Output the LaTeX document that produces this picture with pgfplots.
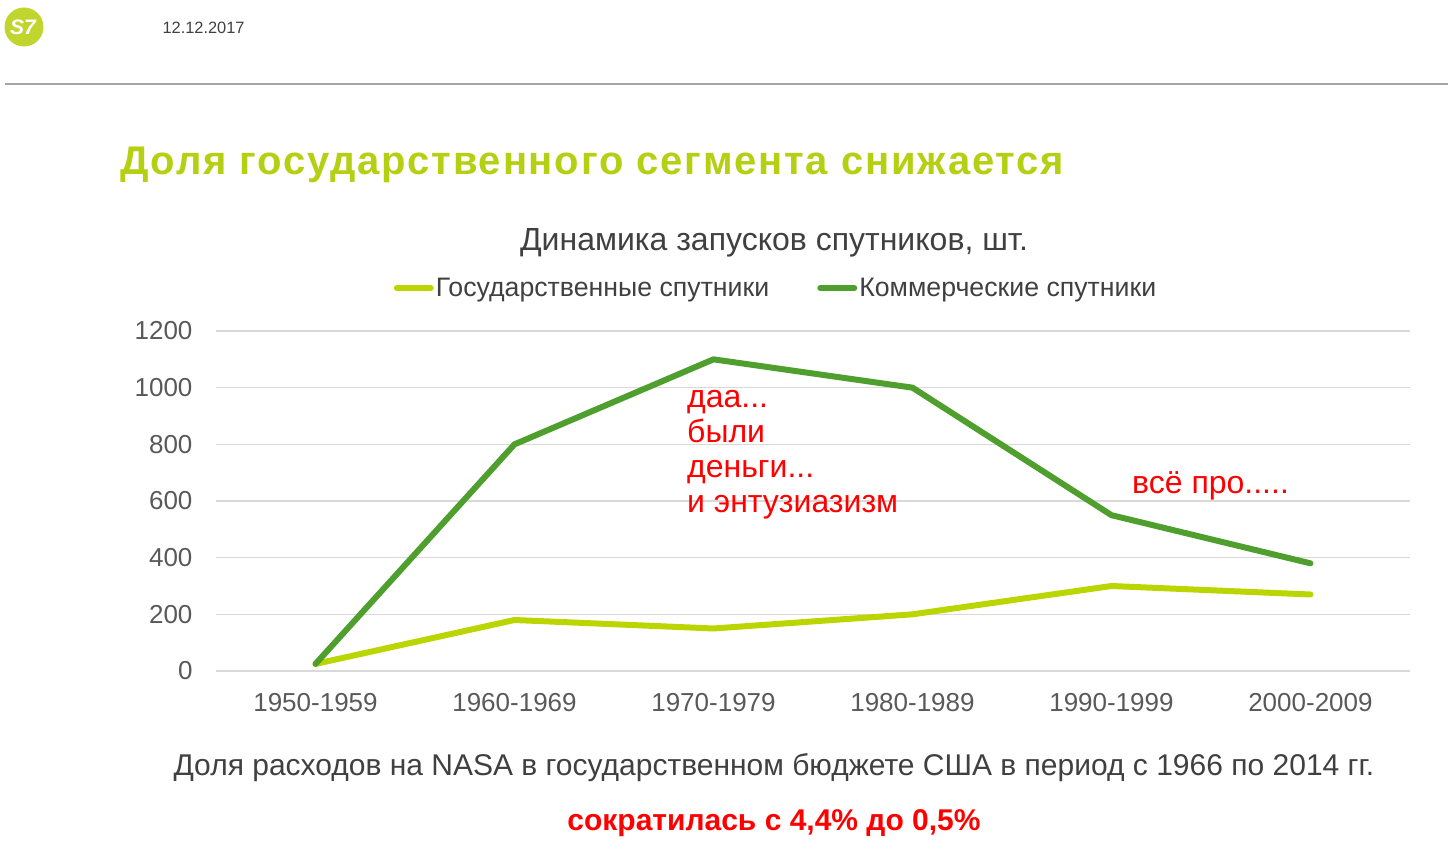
\documentclass[border=0pt]{standalone}
\usepackage{pgfplots}
\pgfplotsset{compat=1.18}
\usepackage{fontspec}
\setmainfont{Liberation Sans}
\newfontfamily\titlefont[LetterSpace=4.5]{Liberation Sans}
\definecolor{lime}{HTML}{BBD500}
\definecolor{titlegreen}{HTML}{B5CF12}
\definecolor{darkgreen}{HTML}{4E9F2D}
\definecolor{txtgray}{HTML}{404040}
\definecolor{tickgray}{HTML}{595959}
\definecolor{gridgray}{HTML}{D9D9D9}
\definecolor{logogreen}{HTML}{C0D62F}
\definecolor{annred}{HTML}{FF0000}
\begin{document}
\begin{tikzpicture}
\path[use as bounding box] (0pt,0pt) rectangle (1448pt,855pt);
% header
\fill[logogreen] (24pt,828pt) circle (19.5pt);
\node[text=white,font=\fontsize{21}{23}\selectfont\bfseries\itshape] at (23pt,828pt) {S7};
\node[anchor=west,text=txtgray,font=\fontsize{16.4}{19}\selectfont] at (159pt,827pt) {12.12.2017};
\draw[color=black!35,line width=1.5pt] (5pt,771pt) -- (1448pt,771pt);
% main title
\node[anchor=base west,text=titlegreen,font=\fontsize{40}{44}\selectfont\titlefont\bfseries] at (116.5pt,680.5pt) {Доля государственного сегмента снижается};
% chart title
\node[text=txtgray,font=\fontsize{32}{36}\selectfont] at (774pt,612pt) {Динамика запусков спутников, шт.};
\begin{axis}[
  at={(216pt,184pt)}, anchor=south west,
  scale only axis, width=1194pt, height=340pt,
  xmin=-0.5, xmax=5.5, ymin=0, ymax=1200,
  xtick={0,1,2,3,4,5},
  xticklabels={1950-1959,1960-1969,1970-1979,1980-1989,1990-1999,2000-2009},
  ytick={0,200,400,600,800,1000,1200},
  ymajorgrids, grid style={gridgray,line width=1.2pt},
  axis line style={draw=none},
  major tick length=0pt,
  tick label style={text=tickgray,font=\fontsize{26}{30}\selectfont},
  /pgf/number format/assume math mode=true,
  /pgf/number format/1000 sep={},
  yticklabel style={xshift=-20pt},
  xticklabel style={yshift=-19pt},
  legend columns=2,
  legend style={at={(0.469,1.126)},anchor=center,draw=none,fill=none,
    font=\fontsize{26.7}{30}\selectfont,text=txtgray,
    /tikz/every even column/.append style={column sep=46pt}},
  legend image code/.code={\draw[#1,line cap=round] (0pt,0pt) -- (34pt,0pt);},
]
\addplot[lime,line width=6pt,line join=round,line cap=round] coordinates {(0,25) (1,180) (2,150) (3,200) (4,300) (5,270)};
\addlegendentry{Государственные спутники}
\addplot[darkgreen,line width=6pt,line join=round,line cap=round] coordinates {(0,25) (1,800) (2,1100) (3,1000) (4,550) (5,380)};
\addlegendentry{Коммерческие спутники}
\end{axis}
% annotations
\node[anchor=north west,align=left,text=annred,font=\fontsize{32}{35}\selectfont,inner sep=0pt] at (687pt,465pt) {даа...\\были\\деньги...\\и энтузиазизм};
\node[anchor=west,text=annred,font=\fontsize{32}{36}\selectfont,inner sep=0pt] at (1132pt,369pt) {всё про.....};
% bottom text
\node[text=txtgray,font=\fontsize{30}{34}\selectfont] at (774pt,87pt) {Доля расходов на NASA в государственном бюджете США в период с 1966 по 2014 гг.};
\node[text=annred,font=\fontsize{30}{34}\selectfont\bfseries] at (774pt,32pt) {сократилась с 4,4\% до 0,5\%};
\end{tikzpicture}
\end{document}
